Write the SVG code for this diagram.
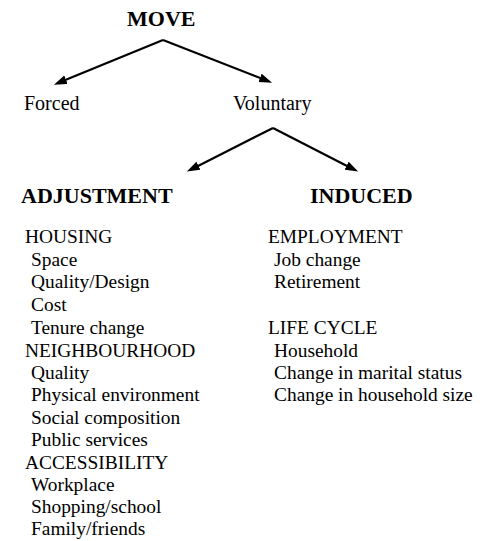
<svg xmlns="http://www.w3.org/2000/svg" width="482" height="541" viewBox="0 0 482 541" font-family="'Liberation Serif', 'Times New Roman', Times, 'DejaVu Serif', serif">
<defs>
<marker id="ah" markerUnits="userSpaceOnUse" markerWidth="13" markerHeight="10" refX="6" refY="5" orient="auto">
<path d="M0,0.5 L13,5 L0,9.5 z" fill="#000"/>
</marker>
<style>
text{font-family:'Liberation Serif','Times New Roman',Times,'DejaVu Serif',serif;fill:#000;font-size:19.4px;font-weight:normal}
text.h{font-weight:bold;font-size:22px}
text.t{font-size:20px}
.c{stroke:#000;stroke-width:2.2;fill:none;marker-end:url(#ah)}
</style>
</defs>
<rect width="482" height="541" fill="#fff"/>
<g id="connectors">
<line class="c" x1="163" y1="40" x2="60.4" y2="82"/>
<line class="c" x1="163" y1="40" x2="265.6" y2="80.1"/>
<line class="c" x1="273" y1="128" x2="193.1" y2="168.4"/>
<line class="c" x1="273" y1="128" x2="351.9" y2="168.4"/>
</g>
<g id="move"><text class="h" x="127" y="26">MOVE</text></g>
<g id="forced"><text class="t" x="24" y="110">Forced</text></g>
<g id="voluntary"><text class="t" x="233" y="110">Voluntary</text></g>
<g id="adjustment">
<text class="h" x="21" y="203">ADJUSTMENT</text>
<text x="25" y="243">HOUSING</text>
<text x="31" y="266">Space</text>
<text x="31" y="288">Quality/Design</text>
<text x="31" y="311">Cost</text>
<text x="31" y="334">Tenure change</text>
<text x="25" y="357">NEIGHBOURHOOD</text>
<text x="31" y="379">Quality</text>
<text x="31" y="401">Physical environment</text>
<text x="31" y="424">Social composition</text>
<text x="31" y="446">Public services</text>
<text x="25" y="469">ACCESSIBILITY</text>
<text x="31" y="491">Workplace</text>
<text x="31" y="513">Shopping/school</text>
<text x="31" y="535">Family/friends</text>
</g>
<g id="induced">
<text class="h" x="310" y="203">INDUCED</text>
<text x="268" y="243">EMPLOYMENT</text>
<text x="274" y="266">Job change</text>
<text x="274" y="288">Retirement</text>
<text x="268" y="334">LIFE CYCLE</text>
<text x="274" y="357">Household</text>
<text x="274" y="379">Change in marital status</text>
<text x="274" y="401">Change in household size</text>
</g>
</svg>
